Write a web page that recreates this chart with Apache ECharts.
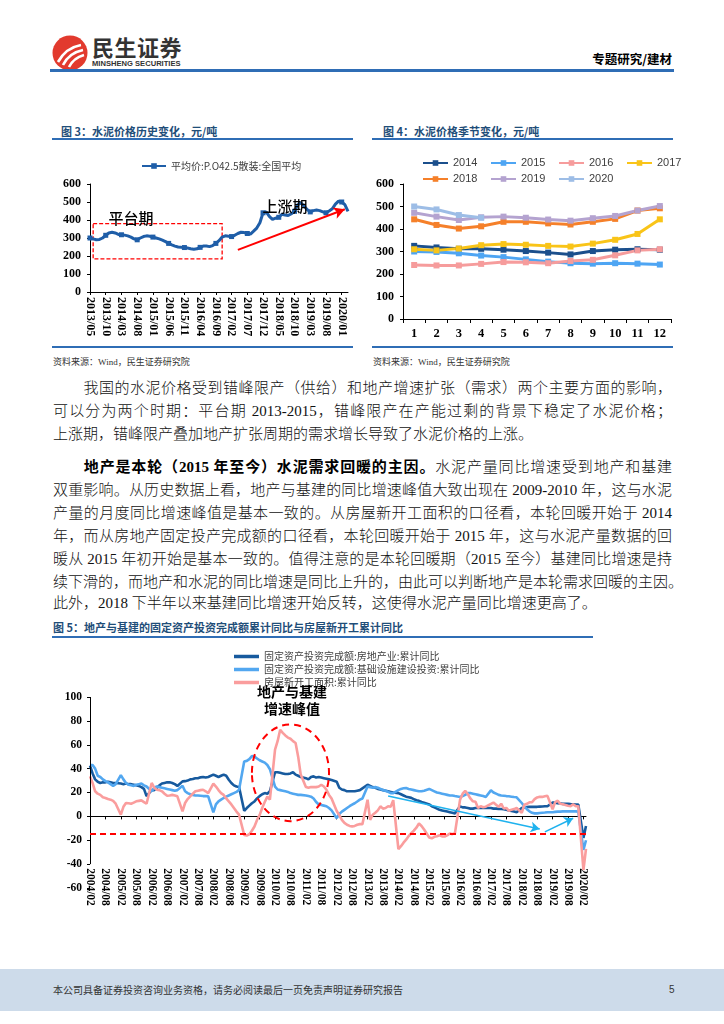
<!DOCTYPE html>
<html><head><meta charset="utf-8">
<script src="https://cdn.jsdelivr.net/npm/echarts@6/dist/echarts.min.js"></script>
<style>
html,body{margin:0;padding:0;background:#fff;}
#page{position:relative;width:724px;height:1024px;overflow:hidden;background:#fff;font-family:"Liberation Serif","Noto Sans CJK SC",serif;}
.abs{position:absolute;}
.hline{position:absolute;background:#2f6db5;}
.ftitle{position:absolute;font-family:"Noto Sans CJK SC";font-weight:700;font-size:11px;color:#1f4e79;line-height:14px;white-space:nowrap;}
.src{position:absolute;font-family:"Liberation Serif","Noto Sans CJK SC";font-size:9px;color:#333;line-height:12px;white-space:nowrap;}
.ln{position:absolute;left:53px;width:619px;font-size:15px;line-height:20px;color:#111;font-weight:300;white-space:nowrap;text-align:justify;text-align-last:justify;}
.ln.last{text-align:left;text-align-last:left;}
.ln b{font-weight:700;color:#000;}
</style></head>
<body><div id="page">
<svg class="abs" style="left:52px;top:35px" width="36" height="36" viewBox="0 0 36 36">
<circle cx="18" cy="18" r="17.5" fill="#e23a2e"/>
<path d="M6,27 C11,18 18,12 29,10" stroke="#fff" stroke-width="2.6" fill="none"/>
<path d="M11,30 C15,22 21,17 31,15" stroke="#fff" stroke-width="2.6" fill="none"/>
<path d="M17,32 C20,26 25,22 32,20" stroke="#fff" stroke-width="2.6" fill="none"/>
</svg>
<div class="abs" style="left:92px;top:33px;font-family:'Noto Sans CJK SC';font-weight:700;font-size:22px;line-height:26px;color:#333;letter-spacing:0.5px;">民生证券</div>
<div class="abs" style="left:92px;top:59px;font-family:'Liberation Sans';font-weight:700;font-size:7.6px;line-height:9px;color:#333;">MINSHENG SECURITIES</div>
<div class="abs" style="right:52px;top:51px;font-family:'Noto Sans CJK SC';font-weight:700;font-size:12.5px;line-height:16px;color:#000;">专题研究/建材</div>
<div class="hline" style="left:50px;top:69px;width:624px;height:2.5px;"></div>

<div class="ftitle" style="left:61px;top:124px;">图 3：水泥价格历史变化，元/吨</div>
<div class="hline" style="left:52px;top:138px;width:301px;height:2px;"></div>
<div class="ftitle" style="left:383px;top:124px;">图 4：水泥价格季节变化，元/吨</div>
<div class="hline" style="left:372px;top:138px;width:301px;height:2px;"></div>

<div id="c3" class="abs" style="left:40px;top:145px;width:320px;height:200px;"></div>
<div id="c4" class="abs" style="left:360px;top:145px;width:330px;height:200px;"></div>

<div class="hline" style="left:52px;top:346px;width:301px;height:1.5px;"></div>
<div class="hline" style="left:372px;top:346px;width:301px;height:1.5px;"></div>
<div class="src" style="left:53px;top:356px;">资料来源：Wind，民生证券研究院</div>
<div class="src" style="left:373px;top:356px;">资料来源：Wind，民生证券研究院</div>

<div class="ln" style="top:378px;"><span style="display:inline-block;width:30px;"></span>我国的水泥价格受到错峰限产（供给）和地产增速扩张（需求）两个主要方面的影响，</div>
<div class="ln" style="top:401px;">可以分为两个时期：平台期 2013-2015，错峰限产在产能过剩的背景下稳定了水泥价格；</div>
<div class="ln last" style="top:424px;">上涨期，错峰限产叠加地产扩张周期的需求增长导致了水泥价格的上涨。</div>

<div class="ln" style="top:457px;"><span style="display:inline-block;width:30px;"></span><b>地产是本轮（2015 年至今）水泥需求回暖的主因。</b>水泥产量同比增速受到地产和基建</div>
<div class="ln" style="top:480px;">双重影响。从历史数据上看，地产与基建的同比增速峰值大致出现在 2009-2010 年，这与水泥</div>
<div class="ln" style="top:503px;">产量的月度同比增速峰值是基本一致的。从房屋新开工面积的口径看，本轮回暖开始于 2014</div>
<div class="ln" style="top:526px;">年，而从房地产固定投产完成额的口径看，本轮回暖开始于 2015 年，这与水泥产量数据的回</div>
<div class="ln" style="top:549px;">暖从 2015 年初开始是基本一致的。值得注意的是本轮回暖期（2015 至今）基建同比增速是持</div>
<div class="ln" style="top:572px;">续下滑的，而地产和水泥的同比增速是同比上升的，由此可以判断地产是本轮需求回暖的主因。</div>
<div class="ln last" style="top:593px;">此外，2018 下半年以来基建同比增速开始反转，这使得水泥产量同比增速更高了。</div>

<div class="ftitle" style="left:53px;top:620px;">图 5：地产与基建的固定资产投资完成额累计同比与房屋新开工累计同比</div>
<div class="hline" style="left:52px;top:636px;width:541px;height:2px;"></div>

<div id="c5" class="abs" style="left:40px;top:640px;width:560px;height:290px;"></div>
<div class="abs" style="left:232px;top:683px;width:120px;text-align:center;font-family:'Noto Sans CJK SC';font-weight:700;font-size:14px;line-height:17px;color:#000;">地产与基建<br>增速峰值</div>

<div class="abs" style="left:0;top:969px;width:724px;height:42px;background:#cddbea;"></div>
<div class="abs" style="left:53px;top:983px;font-family:'Noto Sans CJK SC';font-size:10px;line-height:14px;color:#333;white-space:nowrap;">本公司具备证券投资咨询业务资格，请务必阅读最后一页免责声明证券研究报告</div>
<div class="abs" style="left:669px;top:983px;font-family:'Liberation Sans';font-size:10px;line-height:14px;color:#333;">5</div>
</div>

<script>
// ---------------- Figure 3 data (monthly, 2013/05 - 2020/03) ----------------
const fig3Start = [2013, 5];
const fig3Count = 83;
const fig3Price = [
  300, 295, 290, 292, 300, 315, 328, 332,                 // 2013/05-12
  328, 320, 318, 316, 312, 305, 295, 290, 300, 308, 312, 310, // 2014
  305, 300, 295, 288, 280, 270, 262, 255, 250, 248, 247, 244, // 2015
  240, 238, 240, 248, 255, 255, 252, 258, 270, 285, 305, 312, // 2016
  310, 308, 315, 325, 332, 330, 325, 322, 338, 355, 385, 440, // 2017
  445, 420, 403, 410, 415, 432, 428, 425, 435, 448, 485, 495, // 2018
  478, 458, 445, 452, 455, 452, 445, 440, 450, 462, 488, 505, // 2019
  500, 485, 448                                            // 2020/01-03
];
const fig3Name = '平均价:P.O42.5散装:全国平均';

// ---------------- Figure 4 data (by calendar month) ----------------
const fig4Months = ['1','2','3','4','5','6','7','8','9','10','11','12'];
const y2014 = [325, 318, 312, 312, 308, 302, 295, 287, 302, 308, 310, 308];
const y2015 = [300, 298, 292, 282, 275, 265, 255, 248, 246, 248, 246, 242];
const y2016 = [240, 238, 238, 245, 253, 252, 248, 258, 263, 283, 305, 310];
const y2017 = [310, 305, 313, 328, 333, 330, 325, 322, 335, 352, 378, 443];
const y2018 = [443, 418, 402, 412, 432, 432, 425, 420, 432, 445, 482, 492];
const y2019 = [472, 455, 440, 452, 455, 450, 442, 437, 448, 458, 482, 502];
const y2020 = [500, 487, 462, 450];
const fig4Names = ['2014','2015','2016','2017','2018','2019','2020'];

// ---------------- Figure 5 data (monthly, 2004/02 - 2020/03, January not published) ----------------
const fig5Start = [2004, 2];
const fig5Count = 194;
const realEstate = [
  42.5, 36, 31, 29, 28, 28.5, 28.5, 29, 28.5, 28, 28,
  null, 27.5, 27, 27.5, 27, 27, 26.5, 26, 25.5, 24.5, 23, 17,
  null, 22, 22, 24, 26, 27.5, 28, 28.5, 28.5, 28, 27, 25.5,
  null, 29.3, 29.5, 30, 31, 31.3, 32, 32, 32.7, 33, 32.5, 33,
  null, 35, 34, 33, 34, 35, 34, 30.7, 28, 26, 25, 24.6,
  null, 4.7, 7, 9, 11, 12.5, 15, 17, 18.5, 19.5, 19, 21,
  null, 37, 37, 36.5, 36, 35.5, 35.5, 36, 37, 35, 34, 33,
  null, 32, 31, 33, 33.5, 32.5, 33, 32.5, 32, 31.5, 31, 30.5,
  null, 29, 24, 22.5, 22, 21, 21, 21, 21, 21.5, 22, 23.5,
  null, 26.5, 25.5, 24.5, 24, 23, 22.5, 22, 21.5, 21, 20.5, 20,
  null, 19.5, 18.5, 17.5, 16.5, 16, 15.5, 14.5, 13.5, 13, 12, 11.5,
  null, 10, 8.5, 7.5, 6.5, 5.5, 5, 4.5, 4, 3.5, 3, 2.5,
  null, 8.4, 7.5, 7.5, 7, 6.5, 6.5, 7, 7, 7, 7, 7,
  null, 7, 6.5, 6.5, 6.3, 6.2, 6, 5.5, 5, 4.5, 4, 3.5,
  null, 7, 7.5, 7.8, 8, 8, 8, 8, 8.2, 8.3, 8.5, 8.5,
  null, 11.5, 11.5, 11, 10.8, 10.5, 10.5, 10.5, 10.3, 10.2, 10, 9.9,
  null, -18, -8
];
const infra = [
  43, 43, 40, 34, 33, 31, 29.5, 28.5, 27, 25.5, 27,
  null, 34.5, 31, 28, 26.5, 26, 25.5, 26.5, 27, 27.5, 26, 25,
  null, 21, 24, 25, 24.5, 24, 23.5, 23, 22.5, 22, 21.5, 22,
  null, 25.7, 21, 19.5, 18.5, 18, 17.5, 17.5, 17.3, 17, 17, 16.8,
  null, 3.4, 10, 12.6, 14, 15.4, 16.5, 17.5, 18.5, 19.5, 20.5, 22.3,
  null, 46, 46.5, 48, 50.5, 50, 48.5, 47, 46, 45, 43, 39.5,
  null, 25, 22.5, 22, 21.5, 21, 20.5, 19.5, 19, 18.5, 18, 18,
  null, 17.5, 17, 16.5, 15, 12, 10, 9.5, 9, 8.5, 7, 5,
  null, -1.5, 2, 4, 5.5, 7, 8.5, 9.8, 11, 12.5, 14, 15,
  null, 25, 24.5, 24, 24.5, 24, 23, 22, 21.5, 20.5, 19.5, 19.5,
  null, 22, 23, 23.5, 23.7, 23, 22.5, 22, 21.5, 21, 21, 21.5,
  null, 23, 22, 21, 20, 19.5, 19, 18.5, 18, 17.5, 17.5, 17,
  null, 16.2, 17, 18, 19.5, 19.5, 19, 18.5, 18, 17.5, 17, 16.2,
  null, 21.8, 20, 19, 18, 17.5, 17.3, 17, 16.8, 16.5, 16.2, 16,
  null, 11.2, 8.5, 6, 4.2, 3, 2.5, 2.5, 2.8, 3, 3.2, 3.5,
  null, 3.5, 3.8, 4, 4, 4.2, 4.2, 4.2, 4.2, 4.2, 4.2, 4,
  null, -28, -20
];
const newStarts = [
  33.5, 28, 21, 19, 18, 16, 15.4, 14.5, 14, 13, 10.6,
  null, 1.4, 8, 11.2, 11, 10.6, 11.5, 12.6, 13, 13.4, 12, 10.6,
  null, 28, 24, 22.3, 22, 21, 19, 17.3, 17.5, 18, 17.5, 16.8,
  null, 4.2, 11.2, 14.5, 16.8, 19, 21, 21.5, 22, 22.3, 21, 19.5,
  null, 27.4, 25, 22, 19.5, 18, 15, 12.6, 10, 7, 4, 1.4,
  null, -15.5, -16, -15, -12, -8.5, -3, 1, 7, 12, 16.5, 14,
  null, 56, 63, 72.5, 70, 67.8, 66, 65, 63, 61.5, 50, 35,
  null, 24.6, 24, 24.6, 24.5, 24.5, 25, 26.5, 25, 22.3, 18, 15,
  null, 4.5, 1, -3, -5.5, -7, -8, -8.4, -8, -7, -6.5, -6.5,
  null, 14, -3, 1.4, 3, 5, 8.4, 6.5, 7, 8.5, 8, 13.5,
  null, -27.5, -25, -22, -19.5, -16.5, -14, -12, -9.5, -6, -8, -11,
  null, -17.7, -18.4, -17.1, -16.6, -15.8, -16.8, -16.8, -15.9, -14.3, -14.9, -14,
  null, 14, 19, 21.4, 18.6, 15, 12.6, 12.2, 7, 8.5, 7.6, 8.1,
  null, 10.4, 11.6, 9.8, 8, 10.6, 6.6, 7.1, 4.6, 5.6, 6.1, 7,
  null, 2.9, 9.7, 10.5, 11.8, 11.8, 14.4, 15.9, 16.4, 16.3, 16.8, 17.2,
  null, 6, 11.9, 13.1, 10.5, 10.1, 9.5, 8.9, 8.6, 10, 8.6, 8.5,
  null, -44.9, -27.2
];
const fig5Names = ['固定资产投资完成额:房地产业:累计同比', '固定资产投资完成额:基础设施建设投资:累计同比', '房屋新开工面积:累计同比'];
const refLineValue = -14.5;

// ---------------- helpers ----------------
function monthLabels(start, count) {
  const out = []; let y = start[0], m = start[1];
  for (let i = 0; i < count; i++) {
    out.push(y + '/' + (m < 10 ? '0' + m : m));
    m++; if (m > 12) { m = 1; y++; }
  }
  return out;
}
const fig3Cats = monthLabels(fig3Start, fig3Count);
const fig5Cats = monthLabels(fig5Start, fig5Count);

const axisNum = { fontFamily: 'Liberation Serif', fontWeight: 'bold', color: '#000' };
const blackLine = { show: true, lineStyle: { color: '#000', width: 1 } };

// ---------------- Figure 3 ----------------
const c3 = echarts.init(document.getElementById('c3'));
c3.setOption({
  animation: false,
  legend: { data: [fig3Name], left: 96, top: 11, itemWidth: 24, itemHeight: 7, itemGap: 4,
    textStyle: { fontFamily: 'Noto Sans CJK SC', fontSize: 10, color: '#404040' } },
  grid: { left: 50, top: 39, width: 258, height: 108 },
  xAxis: { type: 'category', data: fig3Cats, boundaryGap: false,
    axisLine: blackLine, axisTick: { show: true, interval: 4, length: 3, lineStyle: { color: '#000' } },
    axisLabel: Object.assign({ interval: 4, rotate: -90, fontSize: 12, margin: 5 }, axisNum) },
  yAxis: { type: 'value', min: 0, max: 600, interval: 100,
    axisLine: blackLine, axisTick: { show: true, length: 3, lineStyle: { color: '#000' } },
    splitLine: { show: false }, axisLabel: Object.assign({ fontSize: 12, margin: 9 }, axisNum) },
  series: [{
    name: fig3Name, type: 'line', data: fig3Price, symbol: 'rect', symbolSize: 5,
    itemStyle: { color: '#1f5ea8' }, lineStyle: { color: '#1f5ea8', width: 3 },
    markArea: { silent: true, itemStyle: { color: 'rgba(0,0,0,0)', borderColor: '#ff0000', borderWidth: 1.3, borderType: [4, 2] },
      data: [[{ coord: [1, 380] }, { coord: [42, 184] }]] },
    markLine: { silent: true, symbol: ['none', 'arrow'], symbolSize: [9, 11], label: { show: false },
      lineStyle: { color: '#ff0000', width: 2, type: 'solid' },
      data: [[{ coord: [47, 234] }, { coord: [81, 460] }]] },
    markPoint: { silent: true, symbol: 'circle', symbolSize: 1, itemStyle: { color: 'rgba(0,0,0,0)' },
      label: { show: true, position: 'inside', color: '#000', fontSize: 15, fontFamily: 'Noto Sans CJK SC', fontWeight: 500,
        formatter: p => p.name },
      data: [{ name: '平台期', coord: [13, 412] }, { name: '上涨期', coord: [62, 474] }] }
  }]
});

// ---------------- Figure 4 ----------------
const fig4Colors = ['#1b4f8c', '#4ea5f3', '#f69c9c', '#f9c418', '#f5802a', '#b4a3d0', '#9dbde6'];
const fig4Data = [y2014, y2015, y2016, y2017, y2018, y2019, y2020];
const c4 = echarts.init(document.getElementById('c4'));
c4.setOption({
  animation: false,
  legend: { data: fig4Names, left: 57, top: 5, width: 272, itemGap: 0, itemWidth: 25, itemHeight: 7,
    textStyle: { fontFamily: 'Liberation Sans', fontSize: 11, color: '#404040', width: 37, lineHeight: 16 } },
  grid: { left: 43, top: 39, width: 268, height: 135 },
  xAxis: { type: 'category', data: fig4Months, boundaryGap: true,
    axisLine: blackLine, axisTick: { show: true, length: 4, lineStyle: { color: '#000' } },
    axisLabel: Object.assign({ fontSize: 12.5, margin: 8 }, axisNum) },
  yAxis: { type: 'value', min: 0, max: 600, interval: 100,
    axisLine: blackLine, axisTick: { show: true, length: 3, lineStyle: { color: '#000' } },
    splitLine: { show: false }, axisLabel: Object.assign({ fontSize: 12, margin: 9 }, axisNum) },
  series: fig4Names.map((n, i) => ({
    name: n, type: 'line', data: fig4Data[i], symbol: 'rect', symbolSize: 6,
    itemStyle: { color: fig4Colors[i] }, lineStyle: { color: fig4Colors[i], width: 3 }
  }))
});

// ---------------- Figure 5 ----------------
const fig5Colors = ['#175a9e', '#52a7f0', '#fa9d9d'];
const fig5Data = [realEstate, infra, newStarts];
const c5 = echarts.init(document.getElementById('c5'));
const gridH = 191;
c5.setOption({
  animation: false,
  legend: { data: fig5Names, orient: 'vertical', left: 189, top: 5, itemGap: 0, itemWidth: 25, itemHeight: 3.5,
    icon: 'rect',
    textStyle: { fontFamily: 'Noto Sans CJK SC', fontSize: 10, color: '#404040', lineHeight: 13 } },
  grid: { left: 50, top: 57, width: 496, height: gridH },
  xAxis: { type: 'category', data: fig5Cats, boundaryGap: false, offset: -gridH * 20 / 160,
    axisLine: blackLine, axisTick: { show: true, interval: 5, length: 3, lineStyle: { color: '#000' } },
    axisLabel: Object.assign({ interval: 5, rotate: -90, fontSize: 11.5, margin: 4 }, axisNum) },
  yAxis: { type: 'value', min: -60, max: 100, interval: 20,
    axisLine: { show: false }, axisTick: { show: true, length: 3, lineStyle: { color: '#000' } },
    splitLine: { show: false }, axisLabel: Object.assign({ fontSize: 11.5, margin: 8 }, axisNum) },
  series: fig5Names.map((n, i) => {
    const s = { name: n, type: 'line', data: fig5Data[i], symbol: 'none', connectNulls: true,
      itemStyle: { color: fig5Colors[i] }, lineStyle: { color: fig5Colors[i], width: 2.6 } };
    if (i === 0) {
      s.markLine = { silent: true, symbol: ['none', 'none'], label: { show: false },
        data: [
          [{ coord: [0, 100], lineStyle: { color: '#000', width: 1, type: 'solid' } }, { coord: [0, -40] }],
          { yAxis: refLineValue, lineStyle: { color: '#ff0000', width: 2, type: [6, 4] } }
        ] };
    }
    if (i === 1) {
      s.markLine = { silent: true, symbol: ['none', 'arrow'], symbolSize: [8, 9], label: { show: false },
        lineStyle: { color: '#1fb2ee', width: 1.6, type: 'solid' },
        data: [
          [{ coord: [116, 17] }, { coord: [175, -10.5] }],
          [{ coord: [177, -13] }, { coord: [188, -1.5] }]
        ] };
    }
    return s;
  })
});
// dashed ellipse around the 2009-2010 peak, placed through the chart's own scales
const ctr = c5.convertToPixel({ gridIndex: 0 }, [78, 36.5]);
const edgeX = c5.convertToPixel({ gridIndex: 0 }, [93, 36.5]);
const edgeY = c5.convertToPixel({ gridIndex: 0 }, [78, -4]);
c5.setOption({ graphic: [{ type: 'ellipse', silent: true,
  shape: { cx: ctr[0], cy: ctr[1], rx: Math.abs(edgeX[0] - ctr[0]), ry: Math.abs(edgeY[1] - ctr[1]) },
  style: { fill: 'none', stroke: '#ff0000', lineWidth: 2, lineDash: [7, 5] }, z: 10 }] });
</script>
</body></html>
